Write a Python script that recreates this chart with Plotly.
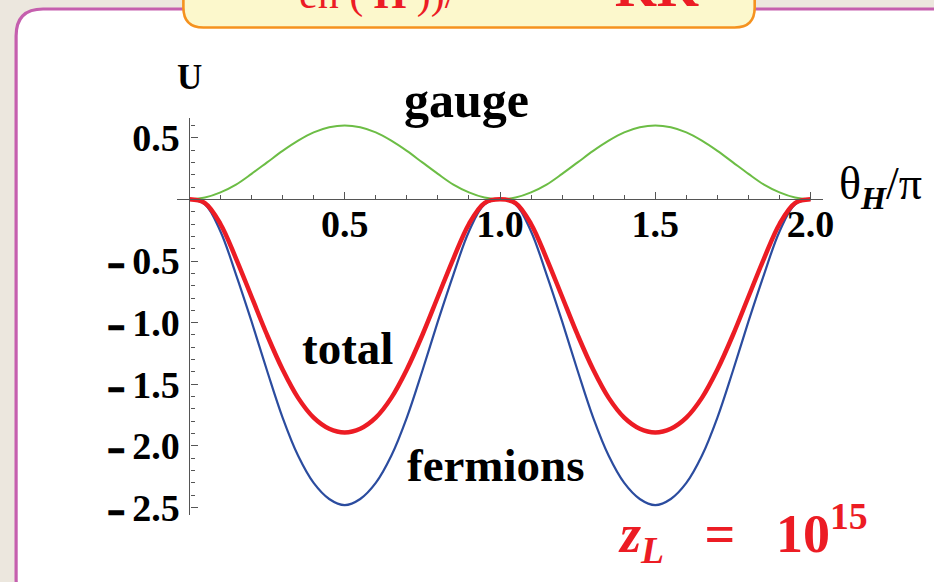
import plotly.graph_objects as go

# ---------------- data ----------------
theta = [0.00, 0.05, 0.10, 0.15, 0.20, 0.25, 0.30, 0.35, 0.40, 0.45, 0.50,
         0.55, 0.60, 0.65, 0.70, 0.75, 0.80, 0.85, 0.90, 0.95, 1.00,
         1.05, 1.10, 1.15, 1.20, 1.25, 1.30, 1.35, 1.40, 1.45, 1.50,
         1.55, 1.60, 1.65, 1.70, 1.75, 1.80, 1.85, 1.90, 1.95, 2.00]

gauge = [0.000, 0.015, 0.057, 0.120, 0.207, 0.300, 0.393, 0.476, 0.543, 0.585, 0.600,
         0.585, 0.543, 0.476, 0.393, 0.300, 0.207, 0.120, 0.057, 0.015, 0.000,
         0.015, 0.057, 0.120, 0.207, 0.300, 0.393, 0.476, 0.543, 0.585, 0.600,
         0.585, 0.543, 0.476, 0.393, 0.300, 0.207, 0.120, 0.057, 0.015, 0.000]

fermions = [0.00, -0.04, -0.26, -0.61, -0.99, -1.39, -1.77, -2.08, -2.30, -2.43, -2.48,
            -2.43, -2.30, -2.08, -1.77, -1.39, -0.99, -0.61, -0.26, -0.04, 0.00,
            -0.04, -0.26, -0.61, -0.99, -1.39, -1.77, -2.08, -2.30, -2.43, -2.48,
            -2.43, -2.30, -2.08, -1.77, -1.39, -0.99, -0.61, -0.26, -0.04, 0.00]

total = [0.00, -0.03, -0.20, -0.48, -0.79, -1.10, -1.38, -1.61, -1.77, -1.86, -1.89,
         -1.86, -1.77, -1.61, -1.38, -1.10, -0.79, -0.48, -0.20, -0.03, 0.00,
         -0.03, -0.20, -0.48, -0.79, -1.10, -1.38, -1.61, -1.77, -1.86, -1.89,
         -1.86, -1.77, -1.61, -1.38, -1.10, -0.79, -0.48, -0.20, -0.03, 0.00]

DASH = '<span style="font-size:24px">━</span>&nbsp;'
x_tickvals = [0.5, 1.0, 1.5, 2.0]
x_ticktext = ["0.5", "1.0", "1.5", "2.0"]
y_tickvals = [-2.5, -2.0, -1.5, -1.0, -0.5, 0.5]
y_ticktext = [DASH + "2.5", DASH + "2.0", DASH + "1.5", DASH + "1.0", DASH + "0.5", "0.5"]

# ---------------- geometry ----------------
W, H = 934, 582
XR = [-0.04, 2.04]
YR = [-2.56, 0.66]
L, R, T, B = 176.6, 110.6, 117.6, 67.1
PW, PH = W - L - R, H - T - B


def fx(px):
    return (px - L) / PW


def fy(py):
    return 1 - (py - T) / PH


def rounded(x0, y0, x1, y1, r):
    pts = [
        f"M {fx(x0 + r)} {fy(y0)}",
        f"L {fx(x1 - r)} {fy(y0)}",
        f"Q {fx(x1)} {fy(y0)} {fx(x1)} {fy(y0 + r)}",
        f"L {fx(x1)} {fy(y1 - r)}",
        f"Q {fx(x1)} {fy(y1)} {fx(x1 - r)} {fy(y1)}",
        f"L {fx(x0 + r)} {fy(y1)}",
        f"Q {fx(x0)} {fy(y1)} {fx(x0)} {fy(y1 - r)}",
        f"L {fx(x0)} {fy(y0 + r)}",
        f"Q {fx(x0)} {fy(y0)} {fx(x0 + r)} {fy(y0)}",
        "Z",
    ]
    return " ".join(pts)


SERIF = "Liberation Serif"
GREEN, BLUE, RED = "#6cbd45", "#2b4c9f", "#ec1c24"

fig = go.Figure()
fig.add_trace(go.Scatter(x=theta, y=gauge, mode="lines", line=dict(color=GREEN, width=2, shape="spline"),
                         name="gauge", showlegend=False, hoverinfo="skip"))
fig.add_trace(go.Scatter(x=theta, y=fermions, mode="lines", line=dict(color=BLUE, width=2.2, shape="spline"),
                         name="fermions", showlegend=False, hoverinfo="skip"))
fig.add_trace(go.Scatter(x=theta, y=total, mode="lines", line=dict(color=RED, width=4.5, shape="spline"),
                         name="total", showlegend=False, hoverinfo="skip"))

axis_common = dict(
    showgrid=False, zeroline=False, showline=True, linecolor="#555555", linewidth=1.2,
    ticks="inside", ticklen=7, tickwidth=1.1, tickcolor="#555555",
    tickfont=dict(family=SERIF, size=38, color="black", weight="bold"),
    automargin=False, anchor="free",
)

fig.update_layout(
    width=W, height=H,
    margin=dict(l=L, r=R, t=T, b=B, pad=0),
    paper_bgcolor="#ece7de",
    plot_bgcolor="rgba(0,0,0,0)",
    xaxis=dict(range=XR, tickvals=x_tickvals, ticktext=x_ticktext,
               position=(0 - YR[0]) / (YR[1] - YR[0]), ticklabelstandoff=-9,
               minor=dict(ticks="inside", ticklen=4.5, tickwidth=1, tickcolor="#555555", dtick=0.1, tick0=0),
               **axis_common),
    yaxis=dict(range=YR, tickvals=y_tickvals, ticktext=y_ticktext,
               position=(0 - XR[0]) / (XR[1] - XR[0]), ticklabelstandoff=2,
               minor=dict(ticks="inside", ticklen=4.5, tickwidth=1, tickcolor="#555555", dtick=0.1, tick0=0),
               **axis_common),
    shapes=[
        dict(type="path", xref="paper", yref="paper", layer="below",
             path=rounded(15.5, 8.5, 962, 606, 27),
             fillcolor="white", line=dict(color="#c55fae", width=3.2)),
        dict(type="path", xref="paper", yref="paper", layer="below",
             path=rounded(183, -30, 755, 27, 20),
             fillcolor="#fcf8cc", line=dict(color="#f5921f", width=2.6)),
    ],
)

ann = []


def label(text, px, py, size, color="black", bold=True, xanchor="center", yanchor="middle"):
    ann.append(dict(text=text, xref="paper", yref="paper", x=fx(px), y=fy(py), showarrow=False,
                    xanchor=xanchor, yanchor=yanchor,
                    font=dict(family=SERIF, size=size, color=color, weight="bold" if bold else "normal")))


label("U", 189.5, 77, 35)
label("gauge", 466, 100, 50)
label("total", 347, 348, 47)
label("fermions", 496, 465, 47)
label("θ<sub><i><b>H</b></i></sub>/π", 881, 187, 46, bold=False)
label("<i>z</i><sub><i>L</i></sub>&nbsp;&nbsp;&nbsp;=&nbsp;&nbsp;&nbsp;10<sup>15</sup>", 743, 533, 54, color=RED)
label("en ( <b>H</b> ))/", 297, 20, 42, color=RED, bold=False, xanchor="left", yanchor="bottom")
label("KK", 613, 20, 54, color=RED, xanchor="left", yanchor="bottom")

fig.update_layout(annotations=ann)

fig.write_html("out.html", config={"displayModeBar": False},
               post_script="document.body.style.margin='0';document.body.style.overflow='hidden';")
